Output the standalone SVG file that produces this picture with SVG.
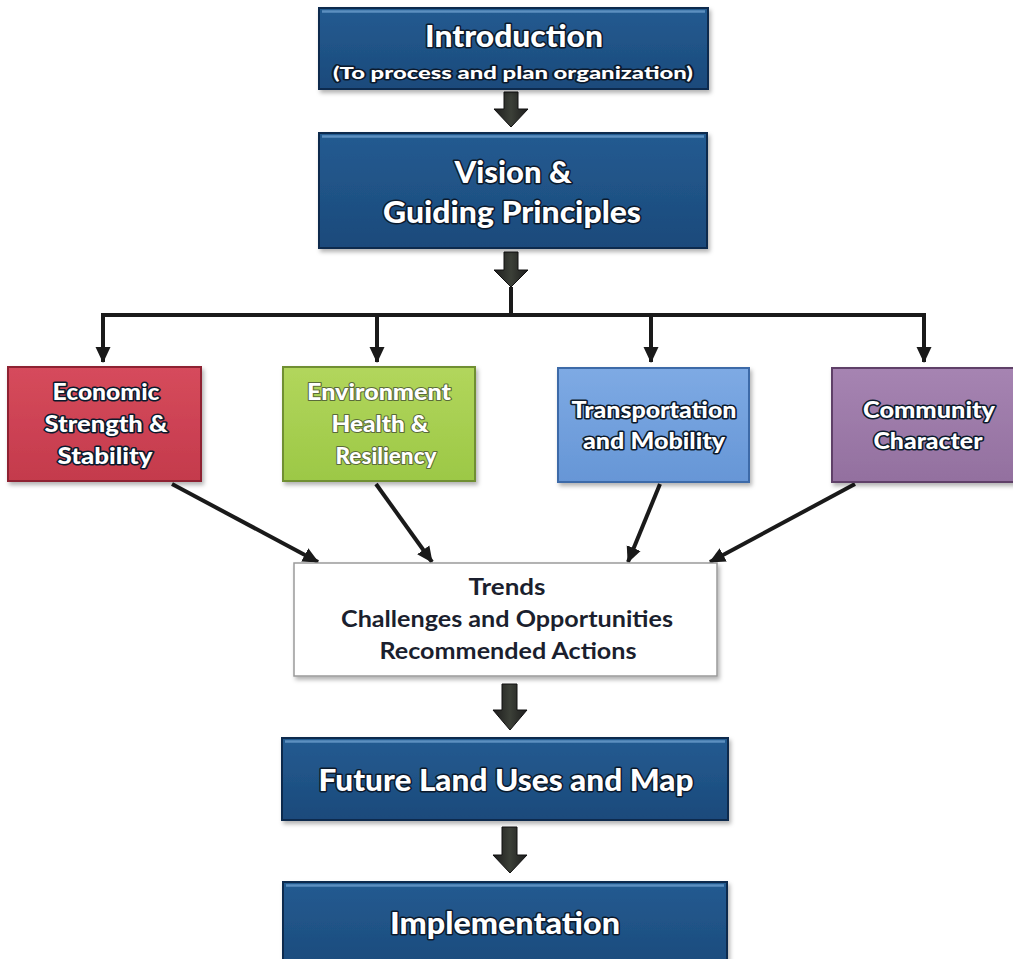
<svg xmlns="http://www.w3.org/2000/svg" width="1013" height="959" viewBox="0 0 1013 959">
  <defs>
    <linearGradient id="gBlue" x1="0" y1="0" x2="0" y2="1">
      <stop offset="0" stop-color="#245b91"/>
      <stop offset="1" stop-color="#1b4a7b"/>
    </linearGradient>
    <linearGradient id="gRed" x1="0" y1="0" x2="0" y2="1">
      <stop offset="0" stop-color="#d64b5c"/>
      <stop offset="1" stop-color="#c43a4c"/>
    </linearGradient>
    <linearGradient id="gGreen" x1="0" y1="0" x2="0" y2="1">
      <stop offset="0" stop-color="#b2d65c"/>
      <stop offset="1" stop-color="#9cc846"/>
    </linearGradient>
    <linearGradient id="gSky" x1="0" y1="0" x2="0" y2="1">
      <stop offset="0" stop-color="#7eaae4"/>
      <stop offset="1" stop-color="#6696d6"/>
    </linearGradient>
    <linearGradient id="gPurple" x1="0" y1="0" x2="0" y2="1">
      <stop offset="0" stop-color="#a684b2"/>
      <stop offset="1" stop-color="#93709f"/>
    </linearGradient>
    <linearGradient id="gArrow" x1="0" y1="0" x2="1" y2="0">
      <stop offset="0" stop-color="#1c1c1c"/>
      <stop offset="0.5" stop-color="#3c4038"/>
      <stop offset="1" stop-color="#1c1c1c"/>
    </linearGradient>
    <filter id="shadow" x="-10%" y="-10%" width="120%" height="130%">
      <feDropShadow dx="2" dy="3" stdDeviation="2" flood-color="#000" flood-opacity="0.3"/>
    </filter>
    <marker id="head" markerWidth="18" markerHeight="18" refX="15" refY="9" orient="auto" markerUnits="userSpaceOnUse">
      <path d="M0,1.5 L16,9 L0,16.5 Z" fill="#1a1a1a"/>
    </marker>
  </defs>
  <style>
    .blue { fill: url(#gBlue); stroke: #0f2c4e; stroke-width: 2; filter: url(#shadow); }
    .bevel { fill: none; stroke: #6b9ccc; stroke-width: 2.5; opacity: 0.8; }
    .sub { stroke-width: 2; filter: url(#shadow); }
    .title { font-family: Lato, "Open Sans", sans-serif; font-weight: 900; fill: #ffffff; stroke: #0c1a2c; stroke-width: 3; paint-order: stroke; stroke-linejoin: round; text-anchor: middle; }
    .soft { stroke: #5a6b3a; stroke-width: 2; }
    .dark { font-family: Lato, "Open Sans", sans-serif; font-weight: bold; fill: #1b1f2e; text-anchor: middle; }
    .conn { fill: none; stroke: #1a1a1a; stroke-width: 4; }
    .block { fill: url(#gArrow); stroke: #111; stroke-width: 1; }
  </style>

  <rect width="1013" height="959" fill="#ffffff"/>

  <!-- connectors -->
  <g id="connectors">
    <polygon class="block" points="504,92 518,92 518,109 528,109 511,127 494,109 504,109"/>
    <polygon class="block" points="504,252 518,252 518,270 528,270 511,287 494,270 504,270"/>
    <polyline class="conn" points="511,287 511,315"/>
    <polyline class="conn" points="101,315 926,315"/>
    <line class="conn" x1="103" y1="315" x2="103" y2="362" marker-end="url(#head)"/>
    <line class="conn" x1="377" y1="315" x2="377" y2="362" marker-end="url(#head)"/>
    <line class="conn" x1="651" y1="315" x2="651" y2="362" marker-end="url(#head)"/>
    <line class="conn" x1="924" y1="315" x2="924" y2="362" marker-end="url(#head)"/>
    <line class="conn" x1="172" y1="484" x2="318" y2="562" marker-end="url(#head)"/>
    <line class="conn" x1="376" y1="484" x2="432" y2="562" marker-end="url(#head)"/>
    <line class="conn" x1="660" y1="484" x2="628" y2="562" marker-end="url(#head)"/>
    <line class="conn" x1="855" y1="484" x2="710" y2="562" marker-end="url(#head)"/>
    <polygon class="block" points="502,684 517,684 517,710 527,710 510,730 493,710 502,710"/>
    <polygon class="block" points="502,827 517,827 517,855 527,855 510,873 493,855 502,855"/>
  </g>

  <!-- Introduction -->
  <g id="introduction">
    <rect class="blue" x="319" y="8" width="389" height="81"/>
    <line class="bevel" x1="322" y1="11.5" x2="705" y2="11.5"/>
    <text class="title" x="514" y="47" font-size="30" textLength="178" lengthAdjust="spacingAndGlyphs">Introduction</text>
    <text class="title" x="513" y="79" font-size="17" stroke-width="2.5" textLength="360" lengthAdjust="spacingAndGlyphs">(To process and plan organization)</text>
  </g>

  <!-- Vision -->
  <g id="vision">
    <rect class="blue" x="319" y="133" width="388" height="115"/>
    <line class="bevel" x1="322" y1="136.5" x2="704" y2="136.5"/>
    <text class="title" x="513" y="183" font-size="30" textLength="117" lengthAdjust="spacingAndGlyphs">Vision &amp;</text>
    <text class="title" x="512" y="223" font-size="30" textLength="258" lengthAdjust="spacingAndGlyphs">Guiding Principles</text>
  </g>

  <!-- Economic -->
  <g id="economic">
    <rect class="sub" x="8" y="367" width="193" height="114" fill="url(#gRed)" stroke="#8e2332"/>
    <text class="title" x="106" y="400" font-size="22" stroke-width="2.5" textLength="107" lengthAdjust="spacingAndGlyphs">Economic</text>
    <text class="title" x="106" y="432" font-size="22" stroke-width="2.5" textLength="123" lengthAdjust="spacingAndGlyphs">Strength &amp;</text>
    <text class="title" x="105" y="464" font-size="22" stroke-width="2.5" textLength="95" lengthAdjust="spacingAndGlyphs">Stability</text>
  </g>

  <!-- Environment -->
  <g id="environment">
    <rect class="sub" x="283" y="367" width="192" height="114" fill="url(#gGreen)" stroke="#6f8f30"/>
    <text class="title soft" x="379" y="400" font-size="22" textLength="144" lengthAdjust="spacingAndGlyphs">Environment</text>
    <text class="title soft" x="380" y="432" font-size="22" textLength="97" lengthAdjust="spacingAndGlyphs">Health &amp;</text>
    <text class="title soft" x="386" y="464" font-size="22" textLength="101" lengthAdjust="spacingAndGlyphs">Resiliency</text>
  </g>

  <!-- Transportation -->
  <g id="transportation">
    <rect class="sub" x="558" y="368" width="191" height="114" fill="url(#gSky)" stroke="#3d6aa8"/>
    <text class="title" x="654" y="418" font-size="22" stroke-width="2.5" stroke="#2a3e60" textLength="165" lengthAdjust="spacingAndGlyphs">Transportation</text>
    <text class="title" x="654" y="449" font-size="22" stroke-width="2.5" stroke="#2a3e60" textLength="142" lengthAdjust="spacingAndGlyphs">and Mobility</text>
  </g>

  <!-- Community -->
  <g id="community">
    <rect class="sub" x="832" y="368" width="190" height="114" fill="url(#gPurple)" stroke="#5f4068"/>
    <text class="title" x="929" y="418" font-size="22" stroke-width="2.5" stroke="#3a2540" textLength="132" lengthAdjust="spacingAndGlyphs">Community</text>
    <text class="title" x="928" y="449" font-size="22" stroke-width="2.5" stroke="#3a2540" textLength="109" lengthAdjust="spacingAndGlyphs">Character</text>
  </g>

  <!-- Trends -->
  <g id="trends">
    <rect x="294" y="563" width="423" height="113" fill="#ffffff" stroke="#9a9a9a" stroke-width="1.5" filter="url(#shadow)"/>
    <text class="dark" x="507" y="595" font-size="23" textLength="77" lengthAdjust="spacingAndGlyphs">Trends</text>
    <text class="dark" x="507" y="627" font-size="23" textLength="332" lengthAdjust="spacingAndGlyphs">Challenges and Opportunities</text>
    <text class="dark" x="508" y="659" font-size="23" textLength="257" lengthAdjust="spacingAndGlyphs">Recommended Actions</text>
  </g>

  <!-- Future Land Uses -->
  <g id="future-land-uses">
    <rect class="blue" x="282" y="738" width="446" height="82"/>
    <line class="bevel" x1="285" y1="741.5" x2="725" y2="741.5"/>
    <text class="title" x="506" y="791" font-size="31" textLength="375" lengthAdjust="spacingAndGlyphs">Future Land Uses and Map</text>
  </g>

  <!-- Implementation -->
  <g id="implementation">
    <rect class="blue" x="283" y="882" width="444" height="90"/>
    <line class="bevel" x1="286" y1="885.5" x2="724" y2="885.5"/>
    <text class="title" x="505" y="934" font-size="31" textLength="230" lengthAdjust="spacingAndGlyphs">Implementation</text>
  </g>
</svg>
